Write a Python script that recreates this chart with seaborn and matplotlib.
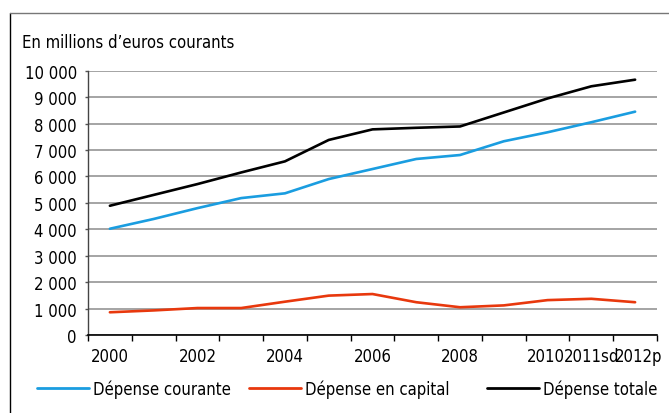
import numpy as np
import pandas as pd
import matplotlib
matplotlib.use("Agg")
import matplotlib.pyplot as plt
import seaborn as sns
from matplotlib.lines import Line2D
from matplotlib.ticker import FuncFormatter, FixedLocator
from matplotlib.transforms import ScaledTranslation

# Data (millions of current euros)
years = ["2000", "2001", "2002", "2003", "2004", "2005", "2006",
         "2007", "2008", "2009", "2010", "2011sd", "2012p"]
courante = [4020, 4390, 4800, 5180, 5360, 5900, 6280, 6660, 6810, 7330, 7670, 8050, 8450]
capital = [860, 930, 1020, 1020, 1260, 1490, 1550, 1240, 1050, 1120, 1320, 1370, 1240]
totale = [4890, 5300, 5710, 6150, 6570, 7380, 7780, 7840, 7890, 8420, 8950, 9410, 9660]
shown_labels = ["2000", "2002", "2004", "2006", "2008", "2010", "2011sd", "2012p"]

series_names = ["Dépense courante", "Dépense en capital", "Dépense totale"]
colors = ["#1a9de0", "#e8380d", "#000000"]

df = pd.DataFrame({"x": list(range(len(years))) * 3,
                   "value": courante + capital + totale,
                   "serie": [s for s in series_names for _ in years]})

sns.set_theme(style="white")
plt.rcParams['font.family'] = ['DejaVu Sans']
plt.rcParams['font.stretch'] = 'condensed'
plt.rcParams['text.color'] = 'black'
plt.rcParams['xtick.color'] = 'black'
plt.rcParams['ytick.color'] = 'black'

fs = 12
fig = plt.figure(figsize=(6.69, 4.14), dpi=100)
ax = fig.add_axes([88 / 669, 1 - 336 / 414, (657 - 88) / 669, (336 - 71.7) / 414])

sns.lineplot(data=df, x="x", y="value", hue="serie", palette=colors,
             linewidth=1.9, ax=ax, legend=False, zorder=3)

#Axes limits, grid and ticks
ax.set_xlim(-0.5, len(years) - 0.5)
ax.set_ylim(0, 10000)
ax.set_yticks(np.arange(0, 10001, 1000))
ax.yaxis.set_major_formatter(FuncFormatter(lambda v, p: f"{v:,.0f}".replace(",", " ")))
ax.grid(axis="y", color="#8c8c8c", linewidth=1.1)
ax.set_axisbelow(True)

ax.set_xticks(np.arange(-0.5, len(years), 1.0))
ax.set_xticklabels([])
ax.xaxis.set_minor_locator(FixedLocator([years.index(l) for l in shown_labels]))
ax.set_xticklabels(shown_labels, minor=True)
ax.tick_params(axis="x", which="major", length=4, width=1, color="black", direction="out", bottom=True)
ax.tick_params(axis="x", which="minor", length=0, pad=9, labelsize=fs, bottom=True)
ax.tick_params(axis="y", length=2, width=1, color="#555555", pad=6, labelsize=fs, left=True)
ax.set_xlabel("")
ax.set_ylabel("")

#the last labels are squeezed in the reference
minor_labels = ax.get_xticklabels(minor=True)
minor_labels[-1].set_transform(minor_labels[-1].get_transform() + ScaledTranslation(4 / 100, 0, fig.dpi_scale_trans))
minor_labels[-3].set_transform(minor_labels[-3].get_transform() + ScaledTranslation(-2 / 100, 0, fig.dpi_scale_trans))

for s in ["top", "right"]:
    ax.spines[s].set_visible(False)
ax.spines["bottom"].set_color("black")
ax.spines["bottom"].set_linewidth(1.2)
ax.spines["left"].set_color("#444444")
ax.spines["left"].set_linewidth(1.0)

fig.text(22 / 669, 1 - 43 / 414, "En millions d’euros courants", fontsize=fs, va="center", ha="left")

#Outer frame (top and left edges)
fig.add_artist(Line2D([10 / 669, 10 / 669], [0, 1 - 14 / 414], transform=fig.transFigure, color="black", linewidth=1))
fig.add_artist(Line2D([10 / 669, 1], [1 - 14 / 414, 1 - 14 / 414], transform=fig.transFigure, color="#777777", linewidth=1))

#One legend entry per series, placed like the reference
for name, c, x0 in zip(series_names, colors, [37, 249, 487]):
    fig.legend([Line2D([], [], color=c, linewidth=2)], [name], loc="center left",
               bbox_to_anchor=(x0 / 669, 1 - 390 / 414), frameon=False, fontsize=fs,
               borderpad=0, borderaxespad=0, handlelength=3.1, handletextpad=0.25)

fig.savefig("out.png", dpi=100)
